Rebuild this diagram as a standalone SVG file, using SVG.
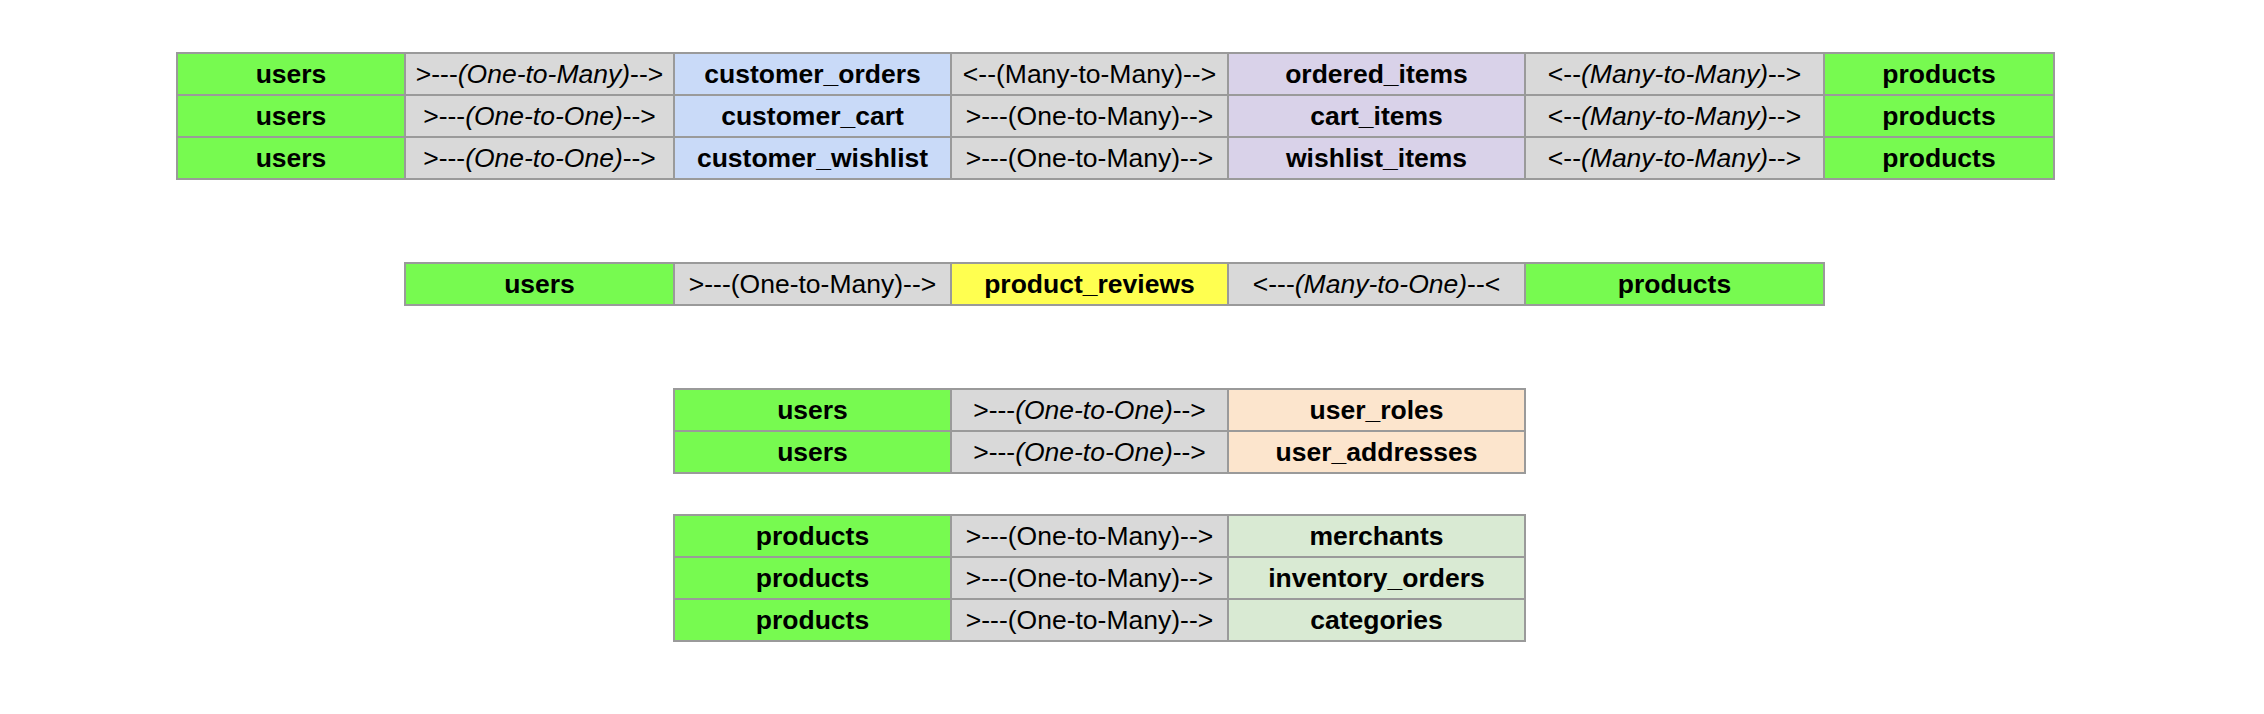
<svg xmlns="http://www.w3.org/2000/svg" width="2264" height="714" viewBox="0 0 2264 714">
<style>
rect{stroke:#9a9a9a;stroke-width:2}
.g{fill:#77fa50}.r{fill:#d9d9d9}.b{fill:#c9daf8}.p{fill:#d9d2e9}.y{fill:#ffff50}.o{fill:#fce5cd}.l{fill:#d9ead3}
text{font-family:"Liberation Sans",Arial,sans-serif;font-size:26.5px;text-anchor:middle;fill:#000}
.n{font-weight:bold}
.i{font-style:italic}
</style>
<!-- Table 1 -->
<g id="t1r1c0"><rect class="g" x="177" y="53" width="228" height="42"/><text class="n" x="291" y="83">users</text></g>
<g id="t1r1c2"><rect class="b" x="674" y="53" width="277" height="42"/><text class="n" x="812.5" y="83">customer_orders</text></g>
<g id="t1r1c4"><rect class="p" x="1228" y="53" width="297" height="42"/><text class="n" x="1376.5" y="83">ordered_items</text></g>
<g id="t1r1c6"><rect class="g" x="1824" y="53" width="230" height="42"/><text class="n" x="1939" y="83">products</text></g>
<g id="t1r2c0"><rect class="g" x="177" y="95" width="228" height="42"/><text class="n" x="291" y="125">users</text></g>
<g id="t1r2c2"><rect class="b" x="674" y="95" width="277" height="42"/><text class="n" x="812.5" y="125">customer_cart</text></g>
<g id="t1r2c4"><rect class="p" x="1228" y="95" width="297" height="42"/><text class="n" x="1376.5" y="125">cart_items</text></g>
<g id="t1r2c6"><rect class="g" x="1824" y="95" width="230" height="42"/><text class="n" x="1939" y="125">products</text></g>
<g id="t1r3c0"><rect class="g" x="177" y="137" width="228" height="42"/><text class="n" x="291" y="167">users</text></g>
<g id="t1r3c2"><rect class="b" x="674" y="137" width="277" height="42"/><text class="n" x="812.5" y="167">customer_wishlist</text></g>
<g id="t1r3c4"><rect class="p" x="1228" y="137" width="297" height="42"/><text class="n" x="1376.5" y="167">wishlist_items</text></g>
<g id="t1r3c6"><rect class="g" x="1824" y="137" width="230" height="42"/><text class="n" x="1939" y="167">products</text></g>
<!-- Table 2 -->
<g id="t2c1"><rect class="g" x="405" y="263" width="269" height="42"/><text class="n" x="539.5" y="293">users</text></g>
<g id="t2c3"><rect class="y" x="951" y="263" width="277" height="42"/><text class="n" x="1089.5" y="293">product_reviews</text></g>
<g id="t2c5"><rect class="g" x="1525" y="263" width="299" height="42"/><text class="n" x="1674.5" y="293">products</text></g>
<!-- Table 3 -->
<g id="t3r1c2"><rect class="g" x="674" y="389" width="277" height="42"/><text class="n" x="812.5" y="419">users</text></g>
<g id="t3r1c4"><rect class="o" x="1228" y="389" width="297" height="42"/><text class="n" x="1376.5" y="419">user_roles</text></g>
<g id="t3r2c2"><rect class="g" x="674" y="431" width="277" height="42"/><text class="n" x="812.5" y="461">users</text></g>
<g id="t3r2c4"><rect class="o" x="1228" y="431" width="297" height="42"/><text class="n" x="1376.5" y="461">user_addresses</text></g>
<!-- Table 4 -->
<g id="t4r1c2"><rect class="g" x="674" y="515" width="277" height="42"/><text class="n" x="812.5" y="545">products</text></g>
<g id="t4r1c4"><rect class="l" x="1228" y="515" width="297" height="42"/><text class="n" x="1376.5" y="545">merchants</text></g>
<g id="t4r2c2"><rect class="g" x="674" y="557" width="277" height="42"/><text class="n" x="812.5" y="587">products</text></g>
<g id="t4r2c4"><rect class="l" x="1228" y="557" width="297" height="42"/><text class="n" x="1376.5" y="587">inventory_orders</text></g>
<g id="t4r3c2"><rect class="g" x="674" y="599" width="277" height="42"/><text class="n" x="812.5" y="629">products</text></g>
<g id="t4r3c4"><rect class="l" x="1228" y="599" width="297" height="42"/><text class="n" x="1376.5" y="629">categories</text></g>
<!-- Connectors (relationship cells) -->
<g id="connectors">
<rect class="r" x="405" y="53" width="269" height="42"/><text x="539.5" y="83">&gt;---<tspan class="i">(One-to-Many)</tspan>--&gt;</text>
<rect class="r" x="405" y="95" width="269" height="42"/><text x="539.5" y="125">&gt;---<tspan class="i">(One-to-One)</tspan>--&gt;</text>
<rect class="r" x="405" y="137" width="269" height="42"/><text x="539.5" y="167">&gt;---<tspan class="i">(One-to-One)</tspan>--&gt;</text>
<rect class="r" x="951" y="53" width="277" height="42"/><text x="1089.5" y="83">&lt;--(Many-to-Many)--&gt;</text>
<rect class="r" x="951" y="95" width="277" height="42"/><text x="1089.5" y="125">&gt;---(One-to-Many)--&gt;</text>
<rect class="r" x="951" y="137" width="277" height="42"/><text x="1089.5" y="167">&gt;---(One-to-Many)--&gt;</text>
<rect class="r" x="1525" y="53" width="299" height="42"/><text x="1674.5" y="83">&lt;--<tspan class="i">(Many-to-Many)</tspan>--&gt;</text>
<rect class="r" x="1525" y="95" width="299" height="42"/><text x="1674.5" y="125">&lt;--<tspan class="i">(Many-to-Many)</tspan>--&gt;</text>
<rect class="r" x="1525" y="137" width="299" height="42"/><text x="1674.5" y="167">&lt;--<tspan class="i">(Many-to-Many)</tspan>--&gt;</text>
<rect class="r" x="674" y="263" width="277" height="42"/><text x="812.5" y="293">&gt;---(One-to-Many)--&gt;</text>
<rect class="r" x="1228" y="263" width="297" height="42"/><text x="1376.5" y="293">&lt;---<tspan class="i">(Many-to-One)</tspan>--&lt;</text>
<rect class="r" x="951" y="389" width="277" height="42"/><text x="1089.5" y="419">&gt;---<tspan class="i">(One-to-One)</tspan>--&gt;</text>
<rect class="r" x="951" y="431" width="277" height="42"/><text x="1089.5" y="461">&gt;---<tspan class="i">(One-to-One)</tspan>--&gt;</text>
<rect class="r" x="951" y="515" width="277" height="42"/><text x="1089.5" y="545">&gt;---(One-to-Many)--&gt;</text>
<rect class="r" x="951" y="557" width="277" height="42"/><text x="1089.5" y="587">&gt;---(One-to-Many)--&gt;</text>
<rect class="r" x="951" y="599" width="277" height="42"/><text x="1089.5" y="629">&gt;---(One-to-Many)--&gt;</text>
</g>
</svg>
